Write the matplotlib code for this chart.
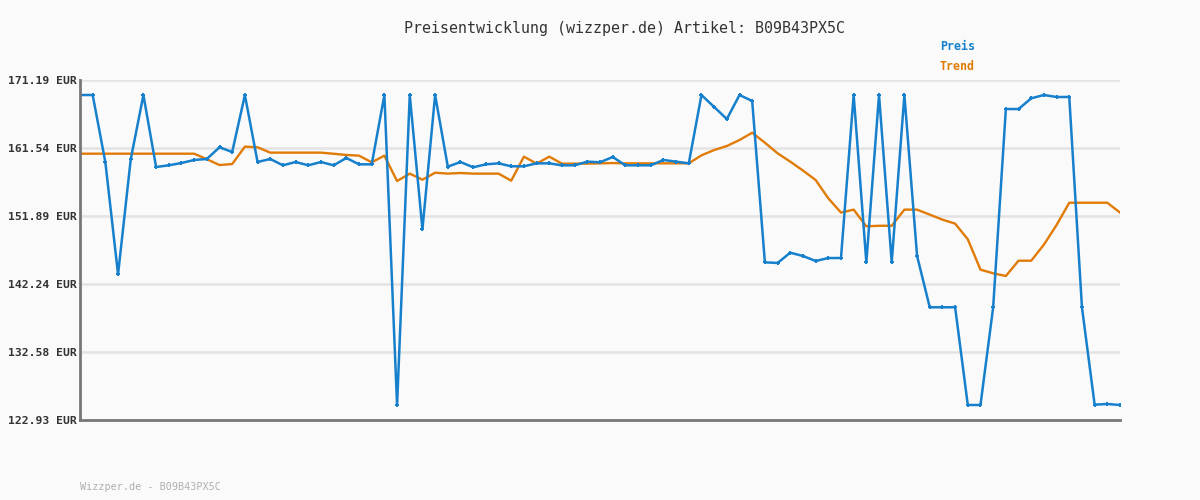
import matplotlib
matplotlib.use("Agg")
import matplotlib.pyplot as plt
import numpy as np

preis = [169.06, 169.06, 159.51, 143.61, 159.93, 169.06, 158.84, 159.08, 159.41, 159.84,
         159.98, 161.64, 160.97, 169.06, 159.55, 159.98, 159.08, 159.55, 159.08, 159.55,
         159.08, 160.12, 159.22, 159.22, 169.06, 125.02, 169.06, 150.00, 169.06, 158.89,
         159.55, 158.80, 159.22, 159.36, 158.94, 158.94, 159.36, 159.36, 159.08, 159.08,
         159.60, 159.51, 160.26, 159.08, 159.08, 159.08, 159.84, 159.60, 159.36, 169.06,
         167.36, 165.65, 169.06, 168.21, 145.31, 145.22, 146.68, 146.21, 145.50, 145.92,
         145.92, 169.06, 145.31, 169.06, 145.31, 169.06, 146.21, 138.93, 138.93, 138.93,
         125.06, 125.06, 138.93, 167.07, 167.07, 168.59, 169.06, 168.78, 168.78, 138.93,
         125.11, 125.20, 125.06]

trend = [160.73, 160.73, 160.73, 160.73, 160.73, 160.73, 160.73, 160.73, 160.73, 160.73,
         159.95, 159.12, 159.26, 161.73, 161.64, 160.88, 160.88, 160.88, 160.88, 160.88,
         160.72, 160.55, 160.45, 159.51, 160.45, 156.85, 157.90, 157.04, 158.03, 157.90,
         157.99, 157.90, 157.90, 157.90, 156.90, 160.31, 159.32, 160.31, 159.32, 159.32,
         159.32, 159.36, 159.40, 159.36, 159.36, 159.36, 159.36, 159.36, 159.36, 160.50,
         161.25, 161.82, 162.67, 163.71, 162.29, 160.79, 159.60, 158.34, 157.00, 154.40,
         152.37, 152.79, 150.42, 150.50, 150.50, 152.79, 152.79, 152.08, 151.37, 150.80,
         148.58, 144.27, 143.75, 143.37, 145.54, 145.54, 147.82, 150.61, 153.77, 153.77,
         153.77, 153.77, 152.37]

y_ticks = [122.93, 132.58, 142.24, 151.89, 161.54, 171.19]
y_labels = ["122.93 EUR", "132.58 EUR", "142.24 EUR", "151.89 EUR", "161.54 EUR", "171.19 EUR"]

title = "Preisentwicklung (wizzper.de) Artikel: B09B43PX5C"
footer = "Wizzper.de - B09B43PX5C"

BG = "#fafafa"
BLUE = "#1680cc"
ORANGE = "#e07b06"
mono = "DejaVu Sans Mono"

fig = plt.figure(figsize=(12, 5), dpi=100, facecolor=BG)
ax = fig.add_axes([80/1200, 80/500, 1040/1200, 340/500])
ax.set_facecolor(BG)

x = np.arange(len(preis))
ax.plot(x, trend, color=ORANGE, lw=1.7, zorder=3)
ax.plot(x, preis, color=BLUE, lw=1.8, marker="+", ms=3.5, mew=1.4, zorder=4)

ax.set_xlim(0, len(preis) - 1)
ax.set_ylim(y_ticks[0], y_ticks[-1])
ax.set_yticks(y_ticks)
ax.set_yticklabels(y_labels, fontfamily=mono, fontsize=8.2, fontweight="bold", color="#333333")
ax.set_xticks([])
ax.tick_params(axis="y", length=0, pad=2)
ax.grid(axis="y", color="#e3e3e3", lw=1.8, zorder=0)
ax.set_axisbelow(True)
for s in ["top", "right"]:
    ax.spines[s].set_visible(False)
for s in ["left", "bottom"]:
    ax.spines[s].set_color("#777777")
    ax.spines[s].set_linewidth(2.0)
    ax.spines[s].set_zorder(5)

fig.text(624/1200, 1 - 28/500, title, ha="center", va="center", fontfamily=mono,
         fontsize=10.8, color="#333333")
fig.text(940/1200, 1 - 47/500, "Preis", ha="left", va="center", fontfamily=mono,
         fontsize=8.4, fontweight="bold", color=BLUE)
fig.text(940/1200, 1 - 67/500, "Trend", ha="left", va="center", fontfamily=mono,
         fontsize=8.4, fontweight="bold", color=ORANGE)
fig.text(80/1200, 1 - 487/500, footer, ha="left", va="center", fontfamily=mono,
         fontsize=7.3, color="#b0b0b0")

fig.savefig("out.png", dpi=100, facecolor=BG)
